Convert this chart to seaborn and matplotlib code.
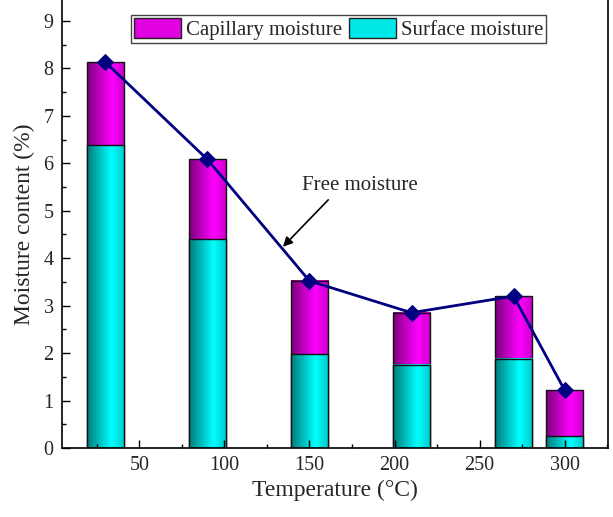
import numpy as np
import pandas as pd
import matplotlib
matplotlib.use("Agg")
import matplotlib.pyplot as plt
import seaborn as sns
from matplotlib.colors import LinearSegmentedColormap
from matplotlib.patches import Patch

# data
temperature = [30, 90, 150, 210, 270, 300]
total_moisture = [8.13, 6.08, 3.52, 2.85, 3.20, 1.22]
surface_moisture = [6.38, 4.40, 1.98, 1.75, 1.88, 0.25]
x_ticks = [50, 100, 150, 200, 250, 300]
y_ticks = [0, 1, 2, 3, 4, 5, 6, 7, 8, 9]

sns.set_theme(style="white")
plt.rcParams['font.family'] = ['Liberation Serif', 'DejaVu Serif']

df = pd.DataFrame({'temp': temperature, 'total': total_moisture,
                   'surface': surface_moisture})

fig = plt.figure(figsize=(6.13, 5.17), dpi=100)
ax = fig.add_axes([0.1011, 0.1335, 0.8907, 0.8665])

magenta_cmap = LinearSegmentedColormap.from_list(
    'mag', [(0, '#7a007a'), (0.65, '#ff00ff'), (1, '#c800c8')])
cyan_cmap = LinearSegmentedColormap.from_list(
    'cyn', [(0, '#007a7a'), (0.65, '#00ffff'), (1, '#00c8c8')])

bar_w = 22 / 30  # seaborn scales width by smallest gap between positions


def gradient_bars(col, cmap, z):
    n_before = len(ax.patches)
    sns.barplot(data=df, x='temp', y=col, native_scale=True, width=bar_w,
                color='white', edgecolor='#111111', linewidth=1.0,
                errorbar=None, ax=ax)
    grad = np.linspace(0, 1, 256).reshape(1, -1)
    for p in ax.patches[n_before:]:
        x0, y0 = p.get_x(), p.get_y()
        w, h = p.get_width(), p.get_height()
        ax.imshow(grad, cmap=cmap, aspect='auto', interpolation='bicubic',
                  extent=(x0, x0 + w, y0, y0 + h), zorder=z)
        p.set_facecolor('none')
        p.set_zorder(z + 0.5)


gradient_bars('total', magenta_cmap, 1)
gradient_bars('surface', cyan_cmap, 2)

sns.lineplot(data=df, x='temp', y='total', color='#000080', linewidth=2,
             marker='D', markersize=8, markeredgecolor='#000080', ax=ax,
             zorder=5)

ax.annotate('Free moisture', xy=(134.4, 4.24), xytext=(179.7, 5.54),
            ha='center', va='center', fontsize=15,
            arrowprops=dict(arrowstyle='-|>', color='black', lw=1.2,
                            mutation_scale=14, relpos=(0.27, 0.0),
                            shrinkA=2, shrinkB=0),
            zorder=6)

ax.set_xlim(4.5, 325.5)
ax.set_ylim(0, 9.44)
ax.set_xticks(x_ticks)
ax.set_yticks(y_ticks)
ax.set_xticks(np.arange(25, 326, 50), minor=True)
ax.set_yticks(np.arange(0.5, 9.4, 1), minor=True)
ax.tick_params(which='major', direction='in', length=6, width=1,
               labelsize=14.5, color='black', pad=6, bottom=True, left=True)
ax.tick_params(which='minor', direction='in', length=3, width=1,
               color='black', bottom=True, left=True)
ax.xaxis.set_zorder(4)
ax.yaxis.set_zorder(4)

ax.set_xlabel('Temperature (°C)', fontsize=17, labelpad=3)
ax.set_ylabel('Moisture content (%)', fontsize=17, labelpad=6)

ax.spines['top'].set_visible(False)
for s in ['left', 'right', 'bottom']:
    ax.spines[s].set_color('black')
    ax.spines[s].set_linewidth(1.2)
    ax.spines[s].set_zorder(4)

handles = [Patch(facecolor='#e000e0', edgecolor='#222222', label='Capillary moisture'),
           Patch(facecolor='#00e8e8', edgecolor='#222222', label='Surface moisture')]
leg = ax.legend(handles=handles, loc='upper center', bbox_to_anchor=(0.507, 0.967),
                ncol=2, fontsize=15, frameon=True, fancybox=False,
                edgecolor='#444444', framealpha=1, borderpad=0.15,
                handlelength=2.25, handleheight=1.1, handletextpad=0.25,
                columnspacing=0.3, borderaxespad=0)
leg.get_frame().set_linewidth(1.0)
leg.set_zorder(7)

fig.savefig('out.png', dpi=100, facecolor='white')
